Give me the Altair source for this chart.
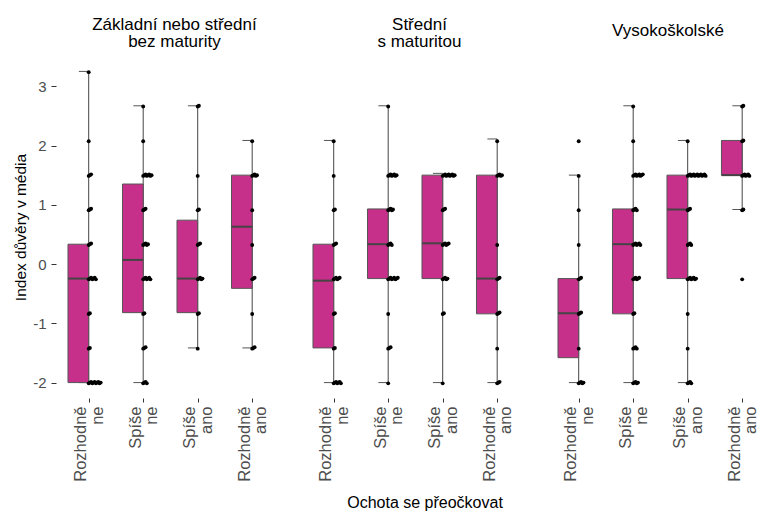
import json
import altair as alt
import pandas as pd

FONT = "Liberation Sans"
MAGENTA = "#C7308A"

education = ["Základní nebo střední bez maturity", "Střední s maturitou", "Vysokoškolské"]
edu_titles = [["Základní nebo střední", "bez maturity"], ["Střední", "s maturitou"], ["Vysokoškolské"]]
willingness = ["Rozhodně ne", "Spíše ne", "Spíše ano", "Rozhodně ano"]

# distinct values of the index
levels = [-2.0, -1.415, -0.83, -0.245, 0.335, 0.92, 1.5, 2.085, 2.67, 3.25]

# box statistics, order: education x willingness
q1 = [-2.0, -0.82, -0.82, -0.41,
      -1.415, -0.245, -0.245, -0.84,
      -1.58, -0.84, -0.245, 1.5]
median = [-0.245, 0.07, -0.245, 0.63,
          -0.28, 0.335, 0.35, -0.245,
          -0.83, 0.335, 0.92, 1.5]
q3 = [0.335, 1.35, 0.74, 1.5,
      0.335, 0.93, 1.5, 1.5,
      -0.245, 0.93, 1.5, 2.085]
whisker_lo = [-2.0, -2.0, -1.415, -1.415,
              -2.0, -2.0, -2.0, -2.0,
              -2.0, -2.0, -2.0, 0.92]
whisker_hi = [3.25, 2.67, 2.67, 2.085,
              2.085, 2.67, 1.53, 2.11,
              1.5, 2.67, 2.085, 2.67]

# visible point counts per level (same order as levels)
counts = [
    [11, 2, 2, 7, 3, 3, 3, 1, 0, 1],
    [4, 3, 2, 7, 5, 3, 8, 1, 1, 0],
    [0, 1, 2, 5, 3, 2, 1, 0, 2, 0],
    [0, 3, 1, 3, 1, 1, 5, 1, 0, 0],
    [7, 2, 2, 6, 3, 2, 1, 1, 0, 0],
    [1, 3, 1, 9, 4, 5, 8, 0, 1, 0],
    [1, 0, 2, 5, 6, 3, 11, 0, 0, 0],
    [3, 1, 3, 3, 1, 0, 5, 1, 0, 0],
    [5, 1, 3, 3, 1, 1, 1, 1, 0, 0],
    [5, 4, 2, 6, 7, 4, 9, 1, 1, 0],
    [4, 1, 1, 8, 4, 3, 16, 1, 0, 0],
    [0, 0, 0, 1, 0, 2, 7, 2, 2, 0],
]

box_rows, pt_rows = [], []
for e_i, edu in enumerate(education):
    for w_i, w in enumerate(willingness):
        g = e_i * 4 + w_i
        box_rows.append(dict(edu=edu, cat=w, idx=w_i, q1=q1[g], med=median[g],
                             q3=q3[g], lo=whisker_lo[g], hi=whisker_hi[g]))
        for lv, n in zip(levels, counts[g]):
            for k in range(n):
                pt_rows.append(dict(edu=edu, cat=w, idx=w_i, value=lv, k=k))
box_df = pd.DataFrame(box_rows)
pt_df = pd.DataFrame(pt_rows)

label_expr = "split(" + json.dumps(willingness, ensure_ascii=False) + "[datum.value], ' ')"
ydom = [-2.26, 3.51]
STEP = 54.5
PH = 342


def panel(e_i):
    edu = education[e_i]
    xdom = [-0.6, 3.6] if e_i < 2 else [-0.6, 3.05]
    width = round((xdom[1] - xdom[0]) * STEP, 1)
    xs = alt.Scale(domain=xdom, nice=False, zero=False)
    ys = alt.Scale(domain=ydom, nice=False, zero=False)
    xaxis = alt.Axis(values=[0, 1, 2, 3], labelExpr=label_expr, labelAngle=270,
                     labelAlign="right", labelBaseline="middle", labelFontSize=16.5,
                     labelLineHeight=16.5, labelColor="#4D4D4D", labelFont=FONT,
                     labelOffset=-8,
                     labelOverlap=False, labelFlush=False, tickSize=4, tickColor="#333333",
                     labelPadding=4, domain=False, grid=False,
                     titleFontSize=16, titleFont=FONT, titleFontWeight="normal",
                     titleColor="black", titlePadding=13, titleAlign="center",
                     titleX=round(width / 2 + 9, 1))
    xtitle = "Ochota se přeočkovat" if e_i == 1 else None
    if e_i == 0:
        yaxis = alt.Axis(values=[-2, -1, 0, 1, 2, 3], labelExpr="'' + datum.value",
                         labelFontSize=15, labelColor="#4D4D4D", labelFont=FONT,
                         tickSize=5, tickColor="#333333", labelPadding=5,
                         domain=False, grid=False, titleFontSize=15.5, titleFont=FONT,
                         titleFontWeight="normal", titleColor="black", titlePadding=4)
        ytitle = "Index důvěry v média"
    else:
        yaxis = None
        ytitle = None

    def X(f):
        return alt.X(f, type="quantitative", scale=xs, axis=xaxis, title=xtitle)

    def Y(f):
        return alt.Y(f, type="quantitative", scale=ys, axis=yaxis, title=ytitle)

    bb = alt.Chart(box_df).transform_filter(alt.datum.edu == edu)
    pb = alt.Chart(pt_df).transform_filter(alt.datum.edu == edu)

    whisk = bb.mark_rule(color="#444444", strokeWidth=1).encode(
        x=X("idx"), y=Y("lo"), y2="hi")
    cap_hi = bb.transform_calculate(xc="datum.idx - 0.18").mark_rule(
        color="#555555", strokeWidth=1).encode(x=X("xc"), x2="idx", y=Y("hi"))
    cap_lo = bb.transform_calculate(xc="datum.idx - 0.18").mark_rule(
        color="#555555", strokeWidth=1).encode(x=X("xc"), x2="idx", y=Y("lo"))
    box = bb.transform_calculate(x0="datum.idx - 0.38").mark_rect(
        fill=MAGENTA, stroke="#555555", strokeWidth=1).encode(
        x=X("x0"), x2="idx", y=Y("q1"), y2="q3")
    med = bb.transform_calculate(x0="datum.idx - 0.38").mark_rule(
        color="#444444", strokeWidth=2).encode(x=X("x0"), x2="idx", y=Y("med"))
    pts = pb.transform_calculate(
        xp="datum.idx + datum.k * 0.022",
        yp="datum.value + ((datum.k % 3) - 1) * 0.013").mark_circle(
        size=15, color="black", opacity=1).encode(x=X("xp"), y=Y("yp"))

    if e_i < 2:
        tp = alt.TitleParams(text=edu_titles[e_i], fontSize=17, font=FONT,
                             fontWeight="normal", color="black", anchor="middle",
                             frame="group", baseline="bottom", lineHeight=17.5, offset=-12,
                             dx=4)
    else:
        tp = alt.TitleParams(text=edu_titles[e_i], fontSize=17, font=FONT,
                             fontWeight="normal", color="black", anchor="middle",
                             frame="group", baseline="bottom", lineHeight=17.5, offset=-1,
                             dx=round((3.6 - xdom[1]) * STEP / 2 + 7.5, 1))

    return alt.layer(whisk, cap_hi, cap_lo, box, med, pts).properties(
        width=width, height=PH, title=tp)


chart = alt.hconcat(panel(0), panel(1), panel(2), spacing=16, bounds="flush").properties(
    padding={"left": 5, "top": 7, "right": 0, "bottom": 0}
).configure(font=FONT).configure_view(stroke=None)

chart.save("out.html", embed_options={"renderer": "svg", "actions": False})
